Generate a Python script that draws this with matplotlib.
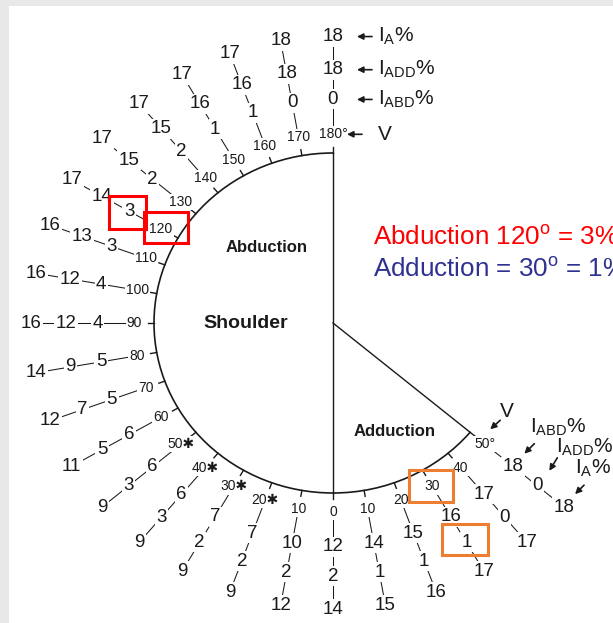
import numpy as np
import matplotlib
matplotlib.use('Agg')
import matplotlib.pyplot as plt
from matplotlib.patches import Arc, Rectangle
from matplotlib.transforms import offset_copy

plt.rcParams['font.family'] = ['Liberation Sans', 'DejaVu Sans']
plt.rcParams['mathtext.fontset'] = 'custom'
plt.rcParams['mathtext.rm'] = 'Liberation Sans'
plt.rcParams['mathtext.it'] = 'Liberation Sans:italic'
plt.rcParams['mathtext.bf'] = 'Liberation Sans:bold'

## abduction side (left half), V = angle, then I_ABD%, I_ADD%, I_A% going outward
abd_angle = [0, 10, 20, 30, 40, 50, 60, 70, 80, 90, 100, 110, 120, 130, 140, 150, 160, 170, 180]
abd_ABD = [12, 10, 7, 7, 6, 6, 6, 5, 5, 4, 4, 3, 3, 2, 2, 1, 1, 0, 0]
abd_ADD = [2, 2, 2, 2, 3, 3, 5, 7, 9, 12, 12, 13, 14, 15, 15, 16, 16, 18, 18]
abd_A = [14, 12, 9, 9, 9, 9, 11, 12, 14, 16, 16, 16, 17, 17, 17, 17, 17, 18, 18]
abd_star = [20, 30, 40, 50]

## adduction side (lower right wedge), 0 is shared with abduction
add_angle = [10, 20, 30, 40, 50]
add_ring1 = [14, 15, 16, 17, 18]
add_ring2 = [1, 1, 1, 0, 0]
add_ring3 = [15, 16, 17, 17, 18]

ring_names = ['V', 'I$_{\\mathrm{ABD}}$%', 'I$_{\\mathrm{ADD}}$%', 'I$_{\\mathrm{A}}$%']

# pixel scale of one radius unit (picture is slightly squashed vertically)
SX, SY = 179.0, 170.0
CX, CY = 333.0, 323.0
W, H = 613, 623
R_V, R1, R2, R3 = 1.11, 1.315, 1.49, 1.685
INK = '#1a1a1a'

fig = plt.figure(figsize=(W / 100, H / 100), dpi=100)
fig.patch.set_facecolor('#e8e8e8')
fig.add_artist(Rectangle((9 / W, 0), 1, 1 - 6 / H, transform=fig.transFigure,
                         facecolor='white', edgecolor='none', zorder=0))
ax = fig.add_axes([0, 0, 1, 1])
ax.set_xlim(-CX / SX, (W - CX) / SX)
ax.set_ylim((CY - H) / SY, CY / SY)
ax.axis('off')


def pos(ang, r, side):
    a = np.radians(ang)
    return side * r * np.sin(a), -r * np.cos(a)


def off(dx, dy):
    return offset_copy(ax.transData, fig=fig, x=dx, y=dy, units='dots')


box = dict(boxstyle='square,pad=0.08', facecolor='white', edgecolor='none')

# circle parts
ax.add_patch(Arc((0, 0), 2, 2, theta1=90, theta2=270, color=INK, lw=1.2))
ax.add_patch(Arc((0, 0), 2, 2, theta1=270, theta2=270 + 50, color=INK, lw=1.2))
ax.plot([0, 0], [-1, 1], color=INK, lw=1.0)
ex, ey = pos(50, 1.0, 1)
ax.plot([0, ex], [0, ey], color=INK, lw=1.0)


def spoke(ang, side, vlab, vals):
    x0, y0 = pos(ang, 1.0, side)
    x1, y1 = pos(ang, 1.035, side)
    ax.plot([x0, x1], [y0, y1], color=INK, lw=1.0)
    xa, ya = pos(ang, R_V, side)
    xb, yb = pos(ang, R3, side)
    ax.plot([xa, xb], [ya, yb], color=INK, lw=0.75, zorder=1)
    ax.text(xa, ya, vlab, fontsize=10, ha='center', va='center', color=INK,
            bbox=box, zorder=3)
    for r, v in zip([R1, R2, R3], vals):
        x, y = pos(ang, r, side)
        ax.text(x, y, str(v), fontsize=13.5, ha='center', va='center', color=INK,
                bbox=box, zorder=3)


for i, ang in enumerate(abd_angle):
    lab = str(ang)
    if ang == 180:
        lab = '180°'
    if ang in abd_star:
        lab = str(ang) + '✱'
    spoke(ang, -1, lab, [abd_ABD[i], abd_ADD[i], abd_A[i]])

for i, ang in enumerate(add_angle):
    lab = '50°' if ang == 50 else str(ang)
    spoke(ang, 1, lab, [add_ring1[i], add_ring2[i], add_ring3[i]])

arrow = dict(arrowstyle='-|>', color=INK, lw=1.2, mutation_scale=9, shrinkA=0, shrinkB=0)

# legend arrows at the top (180)
for r, name in zip([R_V, R1, R2, R3], ring_names):
    x, y = pos(180, r, -1)
    h = 14 if r == R_V else 24
    ax.annotate('', xy=(x, y), xycoords=off(h, 0), xytext=(x, y),
                textcoords=off(h + 15, 0), arrowprops=arrow)
    ax.text(x, y, name, transform=off(45, 0), fontsize=15, ha='left',
            va='center', color=INK)

# legend arrows at the adduction end (50)
right_off = [(5, 15, 15, 24, 22, 33), (11, 13, 21, 23, 45, 39),
             (12, 15, 20, 28, 47, 38), (11, 13, 20, 22, 29, 39)]
for r, name, o in zip([R_V, R1, R2, R3], ring_names, right_off):
    x, y = pos(50, r, 1)
    ax.annotate('', xy=(x, y), xycoords=off(o[0], o[1]), xytext=(x, y),
                textcoords=off(o[2], o[3]), arrowprops=arrow)
    ax.text(x, y, name, transform=off(o[4], o[5]), fontsize=15, ha='center',
            va='center', color=INK)

ax.text(-66 / SX, (CY - 248) / SY, 'Abduction', fontsize=12, fontweight='bold',
        ha='center', va='center', color=INK)
ax.text(-87 / SX, 0, 'Shoulder', fontsize=14, fontweight='bold',
        ha='center', va='center', color=INK)
ax.text(62 / SX, (CY - 432) / SY, 'Adduction', fontsize=12, fontweight='bold',
        ha='center', va='center', color=INK)

ax.text(40 / SX, (CY - 238) / SY, 'Abduction 120$^{\\mathrm{o}}$ = 3%', fontsize=18.7,
        ha='left', va='center', color='#ff0000', clip_on=False)
ax.text(40 / SX, (CY - 270) / SY, 'Adduction = 30$^{\\mathrm{o}}$ = 1%', fontsize=18.7,
        ha='left', va='center', color='#2e3192', clip_on=False)


# highlight boxes around the values discussed
def mark(ang, r, side, w, h, dx, dy, color):
    x, y = pos(ang, r, side)
    x += dx / SX
    y += dy / SY
    ax.add_patch(Rectangle((x - w / 2 / SX, y - h / 2 / SY), w / SX, h / SY,
                           fill=False, edgecolor=color, lw=2.2, zorder=4))


mark(120, R1, -1, 37, 33, -2, -1, '#ff0000')
mark(120, R_V, -1, 44, 31, 5, 1, '#ff0000')
mark(30, R_V, 1, 44, 32, -1, 0, '#ed7d31')
mark(30, R2, 1, 46, 31, -1, 3, '#ed7d31')

fig.savefig('out.png', dpi=100, facecolor=fig.get_facecolor())
